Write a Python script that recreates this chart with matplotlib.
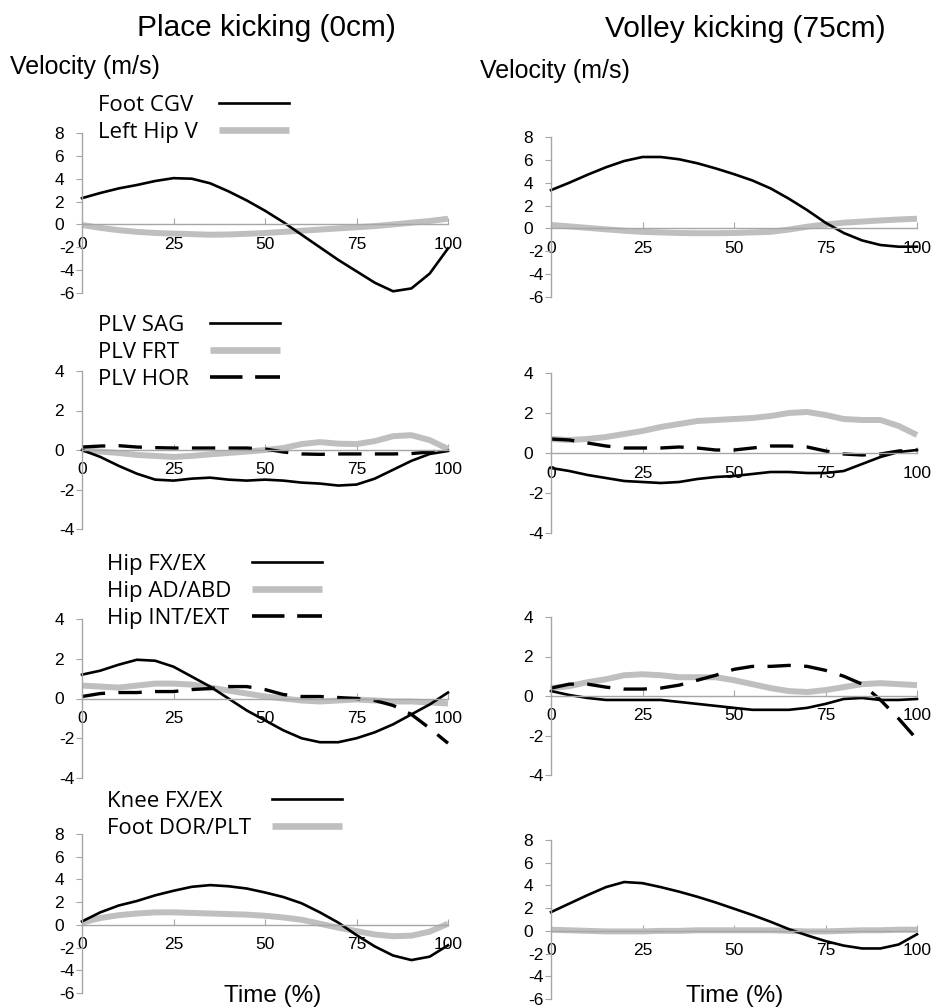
import matplotlib
matplotlib.use('Agg')
import matplotlib.pyplot as plt
from matplotlib.lines import Line2D

plt.rcParams['font.family'] = ['Liberation Sans', 'DejaVu Sans']

W, H = 935, 1008

time_pct = [0, 5, 10, 15, 20, 25, 30, 35, 40, 45, 50, 55, 60, 65, 70, 75, 80, 85, 90, 95, 100]

# row 1 - foot CG / left hip velocity
place_foot_cgv = [2.3, 2.75, 3.15, 3.45, 3.8, 4.05, 4.0, 3.6, 2.9, 2.1, 1.2, 0.2, -0.9, -2.0, -3.1, -4.1, -5.1, -5.85, -5.6, -4.3, -2.1]
place_left_hip = [-0.05, -0.3, -0.5, -0.65, -0.75, -0.8, -0.85, -0.9, -0.88, -0.82, -0.75, -0.65, -0.55, -0.45, -0.35, -0.25, -0.15, 0.0, 0.15, 0.3, 0.5]
volley_foot_cgv = [3.35, 4.0, 4.7, 5.35, 5.9, 6.25, 6.25, 6.05, 5.7, 5.25, 4.75, 4.2, 3.5, 2.6, 1.6, 0.5, -0.4, -1.05, -1.45, -1.6, -1.6]
volley_left_hip = [0.3, 0.18, 0.05, -0.08, -0.2, -0.3, -0.35, -0.4, -0.42, -0.42, -0.4, -0.35, -0.3, -0.1, 0.15, 0.35, 0.5, 0.6, 0.7, 0.78, 0.85]

# row 2 - pelvis
place_plv_sag = [0.0, -0.35, -0.8, -1.2, -1.5, -1.55, -1.45, -1.4, -1.5, -1.55, -1.5, -1.55, -1.65, -1.7, -1.8, -1.75, -1.45, -1.0, -0.55, -0.2, -0.05]
place_plv_frt = [0.0, -0.08, -0.15, -0.25, -0.3, -0.35, -0.3, -0.22, -0.15, -0.08, 0.0, 0.1, 0.3, 0.4, 0.32, 0.3, 0.45, 0.7, 0.75, 0.5, 0.05]
place_plv_hor = [0.15, 0.2, 0.22, 0.15, 0.12, 0.1, 0.1, 0.1, 0.1, 0.1, 0.05, -0.1, -0.2, -0.22, -0.2, -0.2, -0.2, -0.2, -0.18, -0.1, 0.0]
volley_plv_sag = [-0.75, -0.9, -1.1, -1.25, -1.4, -1.45, -1.5, -1.45, -1.3, -1.2, -1.15, -1.05, -0.95, -0.95, -1.0, -1.0, -0.9, -0.55, -0.2, 0.05, 0.15]
volley_plv_frt = [0.7, 0.65, 0.7, 0.8, 0.95, 1.1, 1.3, 1.45, 1.6, 1.65, 1.7, 1.75, 1.85, 2.0, 2.05, 1.9, 1.7, 1.65, 1.65, 1.35, 0.9]
volley_plv_hor = [0.7, 0.65, 0.5, 0.35, 0.25, 0.25, 0.25, 0.3, 0.25, 0.15, 0.15, 0.25, 0.35, 0.35, 0.3, 0.1, -0.05, -0.1, -0.05, 0.1, 0.15]

# row 3 - hip
place_hip_fx = [1.2, 1.4, 1.7, 1.95, 1.9, 1.6, 1.1, 0.6, 0.0, -0.6, -1.1, -1.6, -2.0, -2.2, -2.2, -2.0, -1.7, -1.3, -0.8, -0.3, 0.3]
place_hip_ad = [0.65, 0.6, 0.55, 0.65, 0.75, 0.75, 0.7, 0.55, 0.4, 0.25, 0.1, 0.0, -0.1, -0.15, -0.1, -0.05, -0.1, -0.15, -0.15, -0.2, -0.25]
place_hip_int = [0.1, 0.25, 0.3, 0.3, 0.35, 0.35, 0.45, 0.5, 0.6, 0.6, 0.45, 0.2, 0.1, 0.1, 0.05, 0.0, -0.1, -0.35, -0.8, -1.5, -2.25]
volley_hip_fx = [0.25, 0.05, -0.1, -0.2, -0.2, -0.2, -0.2, -0.3, -0.4, -0.5, -0.6, -0.7, -0.7, -0.7, -0.6, -0.4, -0.15, -0.1, -0.2, -0.2, -0.15]
volley_hip_ad = [0.4, 0.5, 0.7, 0.85, 1.05, 1.1, 1.05, 0.95, 0.95, 0.95, 0.8, 0.6, 0.4, 0.25, 0.2, 0.3, 0.45, 0.6, 0.65, 0.6, 0.55]
volley_hip_int = [0.4, 0.6, 0.6, 0.45, 0.35, 0.35, 0.4, 0.55, 0.8, 1.05, 1.35, 1.5, 1.5, 1.55, 1.5, 1.3, 1.0, 0.6, -0.2, -1.15, -2.2]

# row 4 - knee / foot
place_knee_fx = [0.3, 1.1, 1.7, 2.1, 2.6, 3.0, 3.35, 3.5, 3.4, 3.2, 2.85, 2.45, 1.9, 1.1, 0.2, -0.9, -1.9, -2.7, -3.1, -2.8, -1.8]
place_foot_dor = [0.2, 0.6, 0.85, 1.0, 1.1, 1.1, 1.05, 1.0, 0.95, 0.9, 0.8, 0.65, 0.45, 0.1, -0.25, -0.55, -0.85, -1.0, -0.95, -0.6, 0.1]
volley_knee_fx = [1.65, 2.4, 3.15, 3.85, 4.3, 4.2, 3.85, 3.45, 3.0, 2.5, 1.95, 1.4, 0.8, 0.15, -0.4, -0.9, -1.3, -1.55, -1.55, -1.2, -0.3]
volley_foot_dor = [0.1, 0.05, 0.0, -0.05, -0.05, -0.05, 0.0, 0.0, 0.05, 0.05, 0.05, 0.05, 0.05, 0.0, -0.05, -0.05, 0.0, 0.05, 0.05, 0.1, 0.1]

ticks_wide = [-6, -4, -2, 0, 2, 4, 6, 8]
ticks_narrow = [-4, -2, 0, 2, 4]
x_ticks = [0, 25, 50, 75, 100]

GRAY = '#bfbfbf'
STYLE = {
    'solid': dict(color='black', lw=1.9),
    'gray': dict(color=GRAY, lw=4.3, solid_capstyle='butt'),
    'dash': dict(color='black', lw=2.4, dashes=(7, 4)),
}
LEG_SIZE = 16


def tick_text(v):
    # positive labels sit one digit-width further left, as in the original
    return str(v) if v < 0 else str(v) + '\u2007'


def make_axes(fig, x0, y_top, y_bot, ticks):
    ax = fig.add_axes([x0 / W, 1 - y_bot / H, 366 / W, (y_bot - y_top) / H])
    ax.set_xlim(0, 100)
    ax.set_ylim(ticks[0], ticks[-1])
    for s in ['top', 'right']:
        ax.spines[s].set_visible(False)
    ax.spines['bottom'].set_position(('data', 0))
    for s in ['left', 'bottom']:
        ax.spines[s].set_color('#a6a6a6')
        ax.spines[s].set_linewidth(1.0)
    ax.set_yticks(ticks)
    ax.set_yticklabels([tick_text(t) for t in ticks])
    ax.set_xticks(x_ticks)
    ax.set_xticklabels([str(t) for t in x_ticks])
    ax.tick_params(axis='y', direction='out', length=4, color='#a6a6a6', pad=1.5, labelsize=12.5)
    ax.tick_params(axis='x', direction='in', length=4, color='#a6a6a6', pad=9, labelsize=12.5)
    ax.patch.set_alpha(0)
    return ax


def draw(ax, series):
    for values, kind in series:
        ax.plot(time_pct, values, clip_on=False, **STYLE[kind])


def add_legend(ax, fig, names, kinds, x, y):
    handles = []
    for k in kinds:
        if k == 'dash':
            handles.append(Line2D([], [], color='black', lw=2.6, dashes=(9, 3.5)))
        elif k == 'gray':
            handles.append(Line2D([], [], color=GRAY, lw=4.8, solid_capstyle='butt'))
        else:
            handles.append(Line2D([], [], color='black', lw=1.9))
    leg = ax.legend(handles, names, loc='upper left', bbox_to_anchor=(x / W, 1 - y / H),
                    bbox_transform=fig.transFigure, frameon=False, markerfirst=False,
                    borderpad=0, borderaxespad=0, handlelength=3.15, handletextpad=0.95,
                    labelspacing=0.26, prop={'family': 'Open Sans', 'size': LEG_SIZE})
    # left-align the labels and keep the keys in one column after the longest label
    renderer = fig.canvas.get_renderer()
    widths = [t.get_window_extent(renderer).width for t in leg.get_texts()]
    wmax = max(widths)
    for col in leg._legend_handle_box.get_children():
        col.align = 'left'
        for row, w in zip(col.get_children(), widths):
            row.sep = 0.95 * LEG_SIZE + (wmax - w) * 72 / fig.dpi
    return leg


fig = plt.figure(figsize=(W / 100, H / 100), dpi=100)

# left column: place kicking
ax1 = make_axes(fig, 82, 133, 293, ticks_wide)
draw(ax1, [(place_left_hip, 'gray'), (place_foot_cgv, 'solid')])
add_legend(ax1, fig, ['Foot CGV', 'Left Hip V'], ['solid', 'gray'], 98, 95)

ax3 = make_axes(fig, 82, 371, 529, ticks_narrow)
draw(ax3, [(place_plv_frt, 'gray'), (place_plv_sag, 'solid'), (place_plv_hor, 'dash')])
add_legend(ax3, fig, ['PLV SAG', 'PLV FRT', 'PLV HOR'], ['solid', 'gray', 'dash'], 98, 315)

ax5 = make_axes(fig, 82, 619, 778, ticks_narrow)
draw(ax5, [(place_hip_ad, 'gray'), (place_hip_fx, 'solid'), (place_hip_int, 'dash')])
add_legend(ax5, fig, ['Hip FX/EX', 'Hip AD/ABD', 'Hip INT/EXT'], ['solid', 'gray', 'dash'], 107, 554)

ax7 = make_axes(fig, 82, 834, 993, ticks_wide)
draw(ax7, [(place_foot_dor, 'gray'), (place_knee_fx, 'solid')])
add_legend(ax7, fig, ['Knee FX/EX', 'Foot DOR/PLT'], ['solid', 'gray'], 107, 791)

# right column: volley kicking
ax2 = make_axes(fig, 551, 137, 297, ticks_wide)
draw(ax2, [(volley_left_hip, 'gray'), (volley_foot_cgv, 'solid')])

ax4 = make_axes(fig, 551, 373, 533, ticks_narrow)
draw(ax4, [(volley_plv_frt, 'gray'), (volley_plv_sag, 'solid'), (volley_plv_hor, 'dash')])

ax6 = make_axes(fig, 551, 617, 775, ticks_narrow)
draw(ax6, [(volley_hip_ad, 'gray'), (volley_hip_fx, 'solid'), (volley_hip_int, 'dash')])

ax8 = make_axes(fig, 551, 840, 999, ticks_wide)
draw(ax8, [(volley_foot_dor, 'gray'), (volley_knee_fx, 'solid')])

fig.text(266 / W, 1 - 36 / H, 'Place kicking (0cm)', ha='center', va='baseline', fontsize=21.5)
fig.text(745 / W, 1 - 37 / H, 'Volley kicking (75cm)', ha='center', va='baseline', fontsize=21.5)
fig.text(10 / W, 1 - 74 / H, 'Velocity (m/s)', ha='left', va='baseline', fontsize=18)
fig.text(480 / W, 1 - 78 / H, 'Velocity (m/s)', ha='left', va='baseline', fontsize=18)
fig.text(273 / W, 1 - 1002 / H, 'Time (%)', ha='center', va='baseline', fontsize=17.5)
fig.text(735 / W, 1 - 1002 / H, 'Time (%)', ha='center', va='baseline', fontsize=17.5)

fig.savefig('out.png', dpi=100)
